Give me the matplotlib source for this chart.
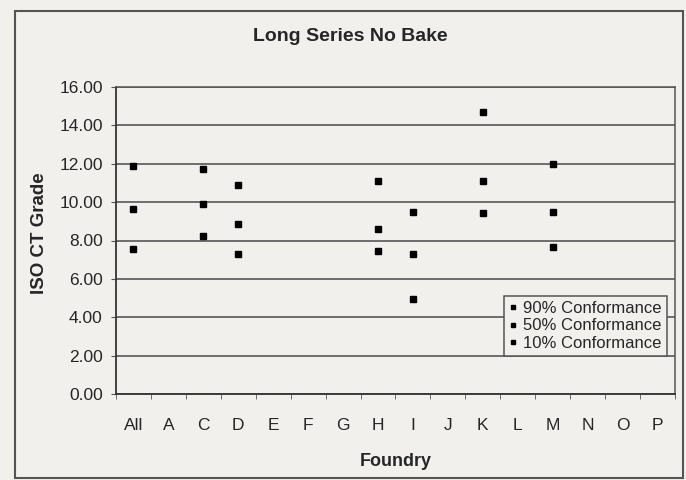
import matplotlib
matplotlib.use("Agg")
import matplotlib.pyplot as plt
import numpy as np

plt.rcParams['font.family'] = ['Liberation Sans', 'DejaVu Sans']

foundries = ["All", "A", "C", "D", "E", "F", "G", "H", "I", "J", "K", "L", "M", "N", "O", "P"]
# values for foundries with data (None = no data)
p90 = [11.90, None, 11.72, 10.90, None, None, None, 11.08, 9.50, None, 14.69, None, 11.97, None, None, None]
p50 = [9.65, None, 9.91, 8.87, None, None, None, 8.61, 7.28, None, 11.10, None, 9.50, None, None, None]
p10 = [7.58, None, 8.22, 7.29, None, None, None, 7.43, 4.97, None, 9.45, None, 7.66, None, None, None]
series_names = ["90% Conformance", "50% Conformance", "10% Conformance"]
y_ticks = [0, 2, 4, 6, 8, 10, 12, 14, 16]

bg = "#f1f0ed"
txt = '#262626'
W, H = 686, 480
fig = plt.figure(figsize=(W/100, H/100), dpi=100, facecolor=bg)
ax = fig.add_axes([116/W, 1-394/H, (675-116)/W, (394-87)/H])
ax.set_facecolor(bg)

x = np.arange(len(foundries))
for vals, name in zip([p90, p50, p10], series_names):
    xs = [xi for xi, v in zip(x, vals) if v is not None]
    ys = [v for v in vals if v is not None]
    ax.plot(xs, ys, linestyle='none', marker='s', markersize=3.8, color='black', label=name)

ax.set_xlim(-0.5, len(foundries) - 0.5)
ax.set_ylim(0, 16)
ax.set_yticks(y_ticks)
ax.set_yticklabels([f"{v:.2f}" for v in y_ticks], fontsize=12.5, color=txt)
ax.set_xticks(x)
ax.set_xticklabels(foundries, fontsize=12.5, color=txt)
ax.set_xticks(np.arange(-0.5, len(foundries)), minor=True)
ax.tick_params(axis='x', which='major', length=0, pad=17)
ax.tick_params(axis='x', which='minor', length=3.5, color='#555555', direction='out')
ax.tick_params(axis='y', length=3.5, color='#555555', pad=6)
ax.yaxis.grid(True, color='#4a4a4a', linewidth=1.1)
ax.set_axisbelow(True)
for s in ['left', 'bottom']:
    ax.spines[s].set_color('#333333')
    ax.spines[s].set_linewidth(1.3)
for s in ['top', 'right']:
    ax.spines[s].set_color('#555555')
    ax.spines[s].set_linewidth(1.1)

fig.text(396/W, 1-462/H, "Foundry", ha='center', va='center',
         fontsize=13, fontweight='bold', color=txt)
fig.text(40/W, 1-233/H, "ISO CT Grade", ha='center', va='center', rotation=90,
         fontsize=13.5, fontweight='bold', color=txt)
fig.text(350/W, 1-36.5/H, "Long Series No Bake", ha='center', va='center',
         fontsize=14, fontweight='bold', color=txt)

leg = ax.legend(loc='lower right', bbox_to_anchor=((667-116)/559, (394-356)/307),
                borderaxespad=0, fontsize=12,
                frameon=True, fancybox=False, framealpha=1, edgecolor='#555555',
                facecolor=bg, handlelength=0.5, handletextpad=0.35, borderpad=0.3,
                labelspacing=0.15, markerscale=0.9)
leg.get_frame().set_linewidth(1.1)
for t in leg.get_texts():
    t.set_color(txt)

# outer border
fig.patches.append(plt.Rectangle((15/W, 1-478/H), (683-15)/W, (478-11)/H,
                                 transform=fig.transFigure, fill=False,
                                 edgecolor='#555555', linewidth=1.5))

fig.savefig("out.png", dpi=100, facecolor=bg)
